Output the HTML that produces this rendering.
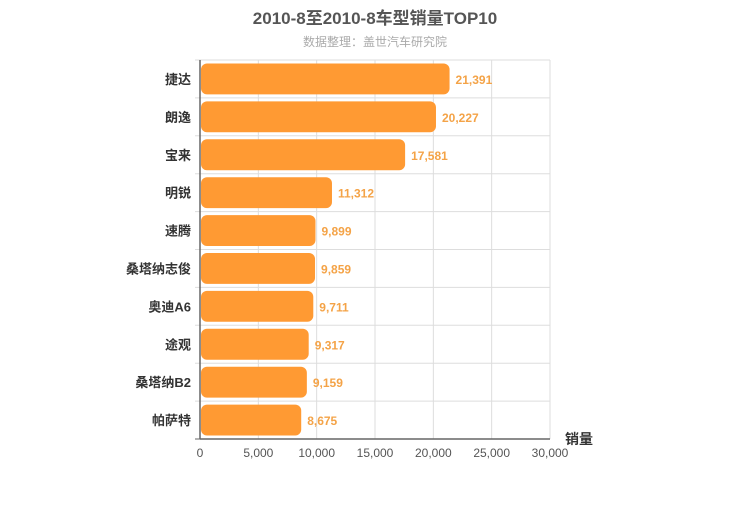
<!DOCTYPE html>
<html><head><meta charset="utf-8"><style>
body{margin:0;background:#fff;width:750px;height:500px;overflow:hidden}
svg text{font-family:"Liberation Sans","Noto Sans CJK SC",sans-serif}
</style></head><body>
<svg id="c" width="750" height="500"></svg>
<script>
const categories=["捷达","朗逸","宝来","明锐","速腾","桑塔纳志俊","奥迪A6","途观","桑塔纳B2","帕萨特"];
const values=[21391,20227,17581,11312,9899,9859,9711,9317,9159,8675];
const ticks=[0,5000,10000,15000,20000,25000,30000];
const NS="http://www.w3.org/2000/svg";
const svg=document.getElementById('c');
const L=200,R=550,T=60,B=439,max=30000;
const x=v=>L+(R-L)*v/max;
const rowH=(B-T)/categories.length;
const y=i=>T+i*rowH;
function el(t,a,txt){const e=document.createElementNS(NS,t);for(const k in a)e.setAttribute(k,a[k]);if(txt!=null)e.textContent=txt;svg.appendChild(e);return e;}
const fmt=v=>v.toLocaleString('en-US');
let e;
e=el('text',{x:375,y:24,'text-anchor':'middle','font-size':17,'font-weight':'bold',fill:'#555'},'2010-8至2010-8车型销量TOP10');


e=el('text',{x:375,y:46,'text-anchor':'middle','font-size':12,fill:'#aaa'},'数据整理：盖世汽车研究院');


ticks.forEach(t=>{
 e=el('line',{x1:x(t),x2:x(t),y1:T,y2:B,stroke:'#ddd','stroke-width':1});
 
 
 e=el('text',{x:x(t),y:B+18,'text-anchor':'middle','font-size':12,fill:'#555'},fmt(t));
 
 
});
for(let i=0;i<=categories.length;i++){
 e=el('line',{x1:L-5,x2:i<categories.length?R:L,y1:y(i),y2:y(i),stroke:i<categories.length?'#ddd':'#666','stroke-width':1});
 
 
}
el('line',{x1:L-5,x2:L,y1:B,y2:B,stroke:'#666'});
e=el('line',{x1:L,x2:L,y1:T,y2:B,stroke:'#666','stroke-width':1.5});


e=el('line',{x1:L,x2:R,y1:B,y2:B,stroke:'#666','stroke-width':1.5});


categories.forEach((c,i)=>{
 e=el('text',{x:L-9,y:y(i)+rowH/2+5,'text-anchor':'end','font-size':13,'font-weight':'bold',fill:'#333'},c);
 
 
 e=el('rect',{x:L+1,y:y(i)+3.5,width:x(values[i])-L-1,height:rowH-7,rx:6,fill:'#ff9a33'});
 
 
 e=el('text',{x:x(values[i])+6,y:y(i)+rowH/2+5,'font-size':12,'font-weight':'bold',fill:'#f4a347'},fmt(values[i]));
 
 
});
e=el('text',{x:565,y:444,'font-size':14,'font-weight':'bold',fill:'#333'},'销量');


</script>
</body></html>
